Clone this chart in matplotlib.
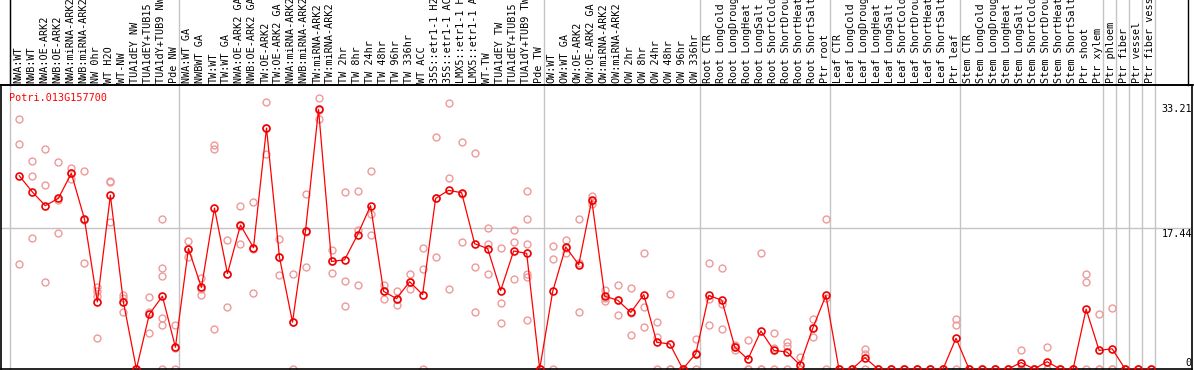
import matplotlib
matplotlib.use('Agg')
import matplotlib.pyplot as plt
from matplotlib.lines import Line2D
from matplotlib.transforms import blended_transform_factory
import numpy as np

# ---------------- data ----------------
group_labels = [
    ["NWA:WT", "NWB:WT", "NWA:OE-ARK2", "NWB:OE-ARK2", "NWA:miRNA-ARK2", "NWB:miRNA-ARK2",
     "NW 0hr", "WT H2O", "WT-NW", "TUA1dEY NW", "TUA1dEY+TUB15 NW", "TUA1dY+TUB9 NW", "Pde NW"],
    ["NWA:WT GA", "NWBWT GA", "TW:WT", "TW:WT GA", "NWA:OE-ARK2 GA", "NWB:OE-ARK2 GA",
     "TW:OE-ARK2", "TW:OE-ARK2 GA", "NWA:miRNA-ARK2 GA", "NWB:miRNA-ARK2 GA", "TW:miRNA-ARK2",
     "TW:miRNA-ARK2 GA", "TW 2hr", "TW 8hr", "TW 24hr", "TW 48hr", "TW 96hr", "TW 336hr",
     "WT ACC", "35S::etr1-1 H2O", "35S::etr1-1 ACC", "LMX5::etr1-1 H2O", "LMX5::etr1-1 ACC",
     "WT-TW", "TUA1dEY TW", "TUA1dEY+TUB15 TW", "TUA1dY+TUB9 TW", "Pde TW"],
    ["OW:WT", "OW:WT GA", "OW:OE-ARK2", "OW:OE-ARK2 GA", "OW:miRNA-ARK2", "OW:miRNA-ARK2 GA",
     "OW 2hr", "OW 8hr", "OW 24hr", "OW 48hr", "OW 96hr", "OW 336hr"],
    ["Root CTR", "Root LongCold", "Root LongDrought", "Root LongHeat", "Root LongSalt",
     "Root ShortCold", "Root ShortDrought", "Root ShortHeat", "Root ShortSalt", "Ptr root"],
    ["Leaf CTR", "Leaf LongCold", "Leaf LongDrought", "Leaf LongHeat", "Leaf LongSalt",
     "Leaf ShortCold", "Leaf ShortDrought", "Leaf ShortHeat", "Leaf ShortSalt", "Ptr leaf"],
    ["Stem CTR", "Stem LongCold", "Stem LongDrought", "Stem LongHeat", "Stem LongSalt",
     "Stem ShortCold", "Stem ShortDrought", "Stem ShortHeat", "Stem ShortSalt", "Ptr shoot",
     "Ptr xylem"],
    ["Ptr phloem"],
    ["Ptr fiber"],
    ["Ptr vessel"],
    ["Ptr fiber vessel"],
]

means = [23.9, 21.9, 20.2, 21.1, 24.2, 18.6, 8.3, 21.5, 8.3, 0.0, 6.8, 9.0, 2.7,
         14.9, 10.1, 19.9, 11.8, 17.8, 15.0, 29.8, 13.8, 5.8, 17.1, 32.1, 13.3, 13.5,
         16.6, 20.2, 9.6, 8.7, 10.8, 9.2, 21.1, 22.1, 21.8, 15.5, 14.9, 9.7, 14.6, 14.3,
         0.0, 9.6, 15.1, 12.9, 20.9, 9.0, 8.5, 7.0, 9.2, 3.3, 3.1, 0.0, 1.9,
         9.1, 8.5, 2.7, 1.2, 4.7, 2.3, 2.1, 0.5, 5.1, 9.1,
         0.0, 0.0, 1.4, 0.0, 0.0, 0.0, 0.0, 0.0, 0.0, 3.8,
         0.0, 0.0, 0.0, 0.0, 0.8, 0.0, 0.9, 0.0, 0.0, 7.4, 2.3,
         2.5, 0.0, 0.0, 0.0]

replicates = [
    [30.9, 27.8, 13.0], [25.7, 23.9, 16.2], [27.2, 22.7, 10.8], [25.6, 20.9, 16.8],
    [24.9, 24.2, 23.5], [24.5, 18.4, 13.1], [10.2, 9.6, 9.0, 3.8], [23.1, 23.2, 18.2],
    [9.1, 8.8, 7.0], [0, 0, 0], [8.9, 7.1, 4.4], [18.6, 12.5, 11.5, 6.3, 5.5, 0],
    [5.5, 2.6, 0],
    [15.8, 14.9, 13.9], [11.3, 9.9, 9.2], [27.7, 27.2, 5.0], [16.0, 11.7, 7.7],
    [20.2, 17.7, 15.5], [20.7, 14.9, 9.4], [33.0, 29.8, 26.6], [16.1, 13.8, 11.6],
    [11.7, 5.8, 0], [21.7, 17.0, 12.6], [33.5, 32.0, 30.9], [14.7, 13.4, 11.9],
    [21.9, 10.9, 7.8], [22.0, 17.2, 10.4], [24.5, 19.2, 16.6], [10.4, 9.6, 8.7],
    [9.6, 8.6, 7.9], [11.7, 10.8, 9.9], [15.0, 12.4, 0], [28.7, 21.1, 13.8],
    [32.9, 23.6, 9.9], [28.1, 21.6, 15.7], [26.7, 12.6, 7.0], [17.4, 15.4, 11.8],
    [15.0, 8.2, 5.7], [17.2, 15.7, 11.1], [22.0, 18.5, 15.4, 11.7, 11.4, 6.1],
    [0, 0, 0], [15.2, 13.6, 0], [16.0, 15.0, 14.3], [18.5, 13.1, 7.0], [21.4, 20.8, 20.4],
    [9.8, 8.8, 8.4], [10.4, 8.5, 6.7], [10.0, 6.9, 4.2], [14.4, 7.7, 5.2], [5.8, 3.9, 0],
    [9.3, 0, 0], [0, 0, 0], [3.7, 2.0, 0],
    [13.1, 8.7, 5.5], [12.5, 8.0, 5.0], [3.0, 2.7, 2.4], [3.6, 0, 0], [14.3, 0, 0],
    [4.4, 2.6, 0], [3.3, 2.9, 0], [1.5, 0, 0], [6.2, 5.1, 3.9], [18.5, 8.8, 0],
    [0, 0, 0], [0, 0, 0], [2.5, 1.9, 0], [0, 0, 0], [0, 0, 0], [0, 0, 0], [0, 0, 0],
    [0, 0, 0], [0, 0, 0], [6.2, 5.4, 0],
    [0, 0, 0], [0, 0, 0], [0, 0, 0], [0, 0, 0], [2.3, 0, 0], [0, 0, 0], [2.7, 0, 0],
    [0, 0, 0], [0, 0, 0], [11.7, 10.8, 0], [6.8, 0, 0],
    [7.5, 0, 0], [0, 0, 0], [0, 0, 0], [0, 0, 0],
]

gene_name = "Potri.013G157700"
ytick_values = ["33.21", "17.44", "0"]
grid_value = 17.44

# ---------------- layout ----------------
W, H = 1194, 370
fig = plt.figure(figsize=(W / 100, H / 100), dpi=100)


def fx(px):
    return px / W


def fy(py):
    return 1 - py / H


AX_L, AX_R, AX_T, AX_B = 1, 1192, 85, 369
ax = fig.add_axes([fx(AX_L), fy(AX_B), (AX_R - AX_L) / W, (AX_B - AX_T) / H])
STEP = 13.01
X0 = 19.3
ax.set_xlim((AX_L - X0) / STEP, (AX_R - X0) / STEP)
PX_PER_UNIT = 8.085
ax.set_ylim(0, (AX_B - AX_T) / PX_PER_UNIT)
ax.set_xticks([])
ax.set_yticks([])
for s in ax.spines.values():
    s.set_color('black')
    s.set_linewidth(1.2)

labels = [l for g in group_labels for l in g]
x = np.arange(len(labels))

# separators
sizes = [len(g) for g in group_labels]
bounds = np.concatenate([[0], np.cumsum(sizes)])
SEP_OFF = 0.692
ext = 1 + AX_T / (AX_B - AX_T)
for b in bounds:
    ax.axvline(b - SEP_OFF, ymin=0, ymax=ext, color='#C4C4C4', lw=1.0,
               clip_on=False, zorder=0.5)
ax.axhline(grid_value, color='#C4C4C4', lw=1.0, zorder=0.5)

# black box lines in label area
fig.add_artist(Line2D([fx(10.3), fx(10.3)], [fy(0), fy(AX_T)], color='black', lw=1.0))
fig.add_artist(Line2D([fx(1188), fx(1188)], [fy(0), fy(AX_T)], color='black', lw=1.0))
fig.add_artist(Line2D([fx(0), fx(W)], [fy(AX_T), fy(AX_T)], color='black', lw=1.2))

xr = [xi for xi, reps in zip(x, replicates) for _ in reps]
yr = [v for reps in replicates for v in reps]
ax.plot(xr, yr, ls='none', marker='o', ms=5.0, mfc='none', mec='#EE9A9A',
        mew=1.0, zorder=2)
ax.plot(x, means, color='red', lw=0.9, zorder=3)
ax.plot(x, means, ls='none', marker='o', ms=5.0, mfc='none', mec='#F00000',
        mew=1.2, zorder=4)

# labels
FONT = 'DejaVu Sans Mono'
FS = 7.3
tr = blended_transform_factory(ax.transData, fig.transFigure)
for xi, lab in zip(x, labels):
    ax.text(xi - 0.08, fy(83), lab, transform=tr, rotation=90, ha='center',
            va='bottom', fontsize=FS, family=FONT, clip_on=False, color='black')

fig.text(fx(9), fy(101), gene_name, color='red', fontsize=FS, family=FONT,
         ha='left', va='baseline')

for txt, base in zip(ytick_values, [112, 237, 365.5]):
    fig.text(fx(1192), fy(base), txt, color='black', fontsize=FS, family=FONT,
             ha='right', va='baseline')

fig.savefig('out.png', dpi=100)
